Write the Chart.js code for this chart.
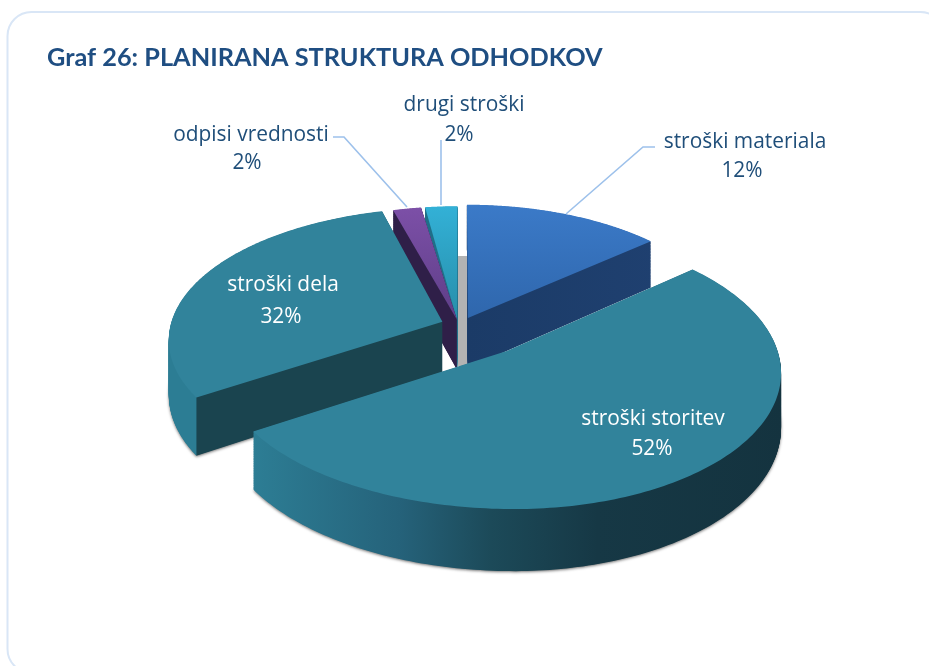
<!DOCTYPE html>
<html lang="sl">
<head>
<meta charset="utf-8">
<style>html,body{margin:0;padding:0;background:#fff}canvas{display:block}</style>
<script src="https://cdn.jsdelivr.net/npm/chart.js@4"></script>
</head>
<body>
<canvas id="c" width="929" height="666"></canvas>
<script>
const titleText = 'Graf 26: PLANIRANA STRUKTURA ODHODKOV';
const categories = ['stroški materiala', 'stroški storitev', 'stroški dela', 'odpisi vrednosti', 'drugi stroški'];
const values = [12, 52, 32, 2, 2];
const sliceColors = ['#3a78c4', '#31839b', '#31839b', '#7a4fa3', '#33afd4'];

// view of the tilted pie
const view = { x0: 460, y0: 318, rx: 262, ry: 128, p: 0.13 };
// pie angle -> apparent angle under the tilt (degrees)
const warpFrom = [0, 43.2, 230.4, 345.6, 352.8, 360];
const warpTo   = [0, 49.5, 237, 345, 352, 360];
// per-slice look: explosion in pie units, paint order, faces
const explodeU = [0.03, 0.173, -0.067, -0.011, -0.011];
const explodeV = [0.0, 0.25, 0.03, 0.015, 0.015];
const sliceTurn = [0, 0, 0, -1, 0];
const stretchLeft = [1, 1.05, 1.03, 1, 1];
const wallHeight = [50, 52, 54, 50, 50];
const paintOrder = [4, 3, 0, 2, 1];
const topStops = [['#3b7ac8', '#2c62a6'], ['#31839b', '#31839b'], ['#31839b', '#31839b'], ['#7d50a8', '#573a80'], ['#33b1d7', '#24869f']];
const wallStops = [
  [[0, '#1b3b67'], [1, '#1f4070']],
  [[0, '#2d7e95'], [0.28, '#25627a'], [0.45, '#1c4a59'], [0.65, '#163845'], [1, '#14333f']],
  [[0, '#2c7d94'], [0.1, '#2c7d94'], [0.105, '#1a444f'], [1, '#1a444f']],
  [[0, '#2f1f48'], [1, '#2f1f48']],
  [[0, '#1f6f88'], [1, '#1f6f88']]
];
const wallRange = [[467, 660], [250, 785], [168, 445], [390, 460], [420, 460]];
const hasShadow = [false, true, true, false, false];

// text placing: [x, baseline]
const labelColor = '#1f4e79';
const labelPos = [[745, 148, 742, 177], [653, 425, 652, 455], [283, 291, 281, 323], [251, 141, 247, 169], [464, 111, 459, 141]];
const labelWhite = [false, true, true, false, false];
const leaders = [
  [[566, 214], [643, 147], [655, 147]],
  [],
  [],
  [[333, 137], [344, 137], [407, 207]],
  [[441, 140], [441, 205]]
];

function warp(deg) {
  deg = ((deg % 360) + 360) % 360;
  for (let i = 1; i < warpFrom.length; i++) {
    if (deg <= warpFrom[i]) {
      const t = (deg - warpFrom[i - 1]) / (warpFrom[i] - warpFrom[i - 1]);
      return warpTo[i - 1] + t * (warpTo[i] - warpTo[i - 1]);
    }
  }
  return deg;
}

function project(arc, idx, px, py, lift) {
  const R = arc.outerRadius;
  const dx = (px - arc.x) / R, dy = (py - arc.y) / R;
  const r = Math.hypot(dx, dy);
  const deg = Math.atan2(dy, dx) * 180 / Math.PI + 90;
  const a = (warp(deg) + sliceTurn[idx]) * Math.PI / 180;
  let du = r * Math.sin(a);
  if (du < 0) du *= stretchLeft[idx];
  const u = du + explodeU[idx];
  const v = -r * Math.cos(a) + explodeV[idx];
  const s = 1 / (1 - view.p * v);
  return [view.x0 + view.rx * u * s, view.y0 + view.ry * v * s + lift * s];
}

function makePen(ctx, arc, idx, lift) {
  let tx = 0, ty = 0; const st = [];
  const put = (x, y, first) => {
    const q = project(arc, idx, x + tx, y + ty, lift);
    first ? ctx.moveTo(q[0], q[1]) : ctx.lineTo(q[0], q[1]);
  };
  let started = false;
  return {
    save() { st.push([tx, ty]); }, restore() { [tx, ty] = st.pop() || [0, 0]; },
    translate(a, b) { tx += a; ty += b; },
    beginPath() { ctx.beginPath(); started = false; }, closePath() { ctx.closePath(); },
    moveTo(x, y) { put(x, y, true); started = true; },
    lineTo(x, y) { put(x, y, !started); started = true; },
    arc(x, y, r, a0, a1, ccw) {
      if (!(r > 0.01)) { put(x, y, !started); started = true; return; }
      const n = 90;
      for (let i = 0; i <= n; i++) {
        const t = a0 + (a1 - a0) * i / n;
        put(x + r * Math.cos(t), y + r * Math.sin(t), !started); started = true;
      }
    },
    fill() { ctx.fill(); }, stroke() {}, clip() {}, setLineDash() {}, arcTo() {}
  };
}

const pie3d = {
  id: 'pie3d',
  beforeDraw(chart) {
    const c = chart.ctx;
    c.save();
    c.fillStyle = '#ffffff'; c.fillRect(0, 0, chart.width, chart.height);
    c.strokeStyle = '#d9e6f6'; c.lineWidth = 2;
    c.beginPath(); c.roundRect(7.5, 12, 937, 661, 24); c.stroke();
    c.restore();
  },
  beforeDatasetsDraw(chart) {
    const c = chart.ctx;
    const arcs = chart.getDatasetMeta(0).data;
    c.save();
    // grey sliver behind the centre
    c.fillStyle = '#b3b3b3'; c.fillRect(458, 256, 9, 110);
    paintOrder.forEach(i => {
      const arc = arcs[i];
      const wg = c.createLinearGradient(wallRange[i][0], 0, wallRange[i][1], 0);
      wallStops[i].forEach(s => wg.addColorStop(s[0], s[1]));
      c.save();
      if (hasShadow[i]) { c.shadowColor = 'rgba(0,0,0,0.55)'; c.shadowBlur = 3; c.shadowOffsetY = 1; }
      c.fillStyle = wg;
      arc.draw(makePen(c, arc, i, wallHeight[i]));
      c.restore();
      for (let h = wallHeight[i] - 0.5; h > 0; h -= 0.5) {
        c.fillStyle = wg;
        arc.draw(makePen(c, arc, i, h));
      }
      const tg = c.createLinearGradient(0, 205, 0, 345);
      tg.addColorStop(0, topStops[i][0]); tg.addColorStop(1, topStops[i][1]);
      c.fillStyle = tg;
      arc.draw(makePen(c, arc, i, 0));
    });
    // leader lines
    c.strokeStyle = '#9dc1eb'; c.lineWidth = 1.6;
    leaders.forEach(l => {
      if (!l.length) return;
      c.beginPath(); l.forEach((p, k) => k ? c.lineTo(p[0], p[1]) : c.moveTo(p[0], p[1])); c.stroke();
    });
    // labels
    c.font = '20.9px "Open Sans"'; c.textAlign = 'center'; c.textBaseline = 'alphabetic';
    categories.forEach((name, i) => {
      c.fillStyle = labelWhite[i] ? '#ffffff' : labelColor;
      const p = labelPos[i];
      c.fillText(name, p[0], p[1]);
      c.fillText(values[i] + '%', p[2], p[3]);
    });
    c.restore();
    return false;
  }
};

new Chart(document.getElementById('c'), {
  type: 'pie',
  data: { labels: categories, datasets: [{ data: values, backgroundColor: sliceColors, borderWidth: 0 }] },
  plugins: [pie3d],
  options: {
    responsive: false, animation: false, events: [],
    layout: { padding: { left: 47, top: 43, right: 20, bottom: 20 } },
    plugins: {
      legend: { display: false }, tooltip: { enabled: false },
      title: { display: true, text: titleText, align: 'start', color: '#1f4e82', padding: 0,
        font: { family: 'Lato', size: 25.3, weight: 'bold' } }
    }
  }
});
</script>
</body>
</html>
